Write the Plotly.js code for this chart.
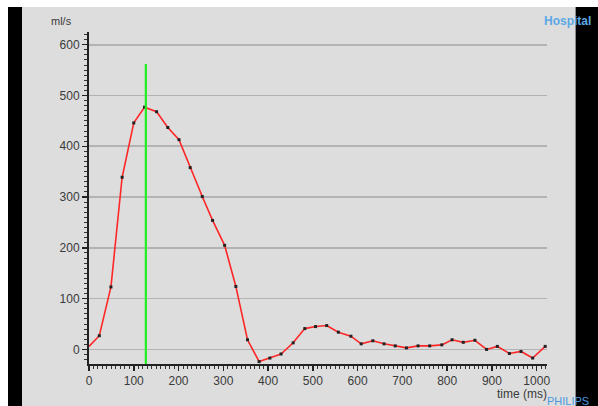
<!DOCTYPE html>
<html>
<head>
<meta charset="utf-8">
<script src="https://cdn.plot.ly/plotly-3.0.1.min.js"></script>
<style>
  html, body { margin: 0; padding: 0; background: #ffffff; }
  #wrap { position: relative; width: 598px; height: 406px; overflow: hidden; }
  #black { position: absolute; left: 8px; top: 7px; width: 590px; height: 399px; background: #000; }
  #gray { position: absolute; left: 22px; top: 7px; width: 553px; height: 399px; background: #dddddd; border-right: 1px solid #8a8a8a; }
  #chart { position: absolute; left: 0; top: 0; width: 598px; height: 406px; }
</style>
</head>
<body>
<div id="wrap">
  <div id="black"></div>
  <div id="gray"></div>
  <div id="chart"></div>
</div>
<script>
// time (ms) of each sample
var timeMs = [0, 23, 49, 74, 100, 124, 151, 176, 201, 226, 253, 276, 303, 328, 354, 380, 404, 429, 456, 482, 506,
              531, 557, 585, 608, 634, 659, 684, 709, 735, 761, 788, 811, 836, 862, 888, 912, 939, 965, 991, 1019];
// flow (ml/s)
var flow = [6, 27, 123, 339, 446, 477, 468, 437, 413, 358, 301, 254, 205, 124, 19, -24, -17, -9, 13, 41, 45,
            47, 34, 26, 11, 17, 11, 7, 3, 7, 7, 9, 19, 14, 18, 0, 6, -8, -4, -17, 6];
// cursor (green marker line)
var cursorX = [127, 127];
var cursorY = [-29, 562];

var xTicks = [0, 100, 200, 300, 400, 500, 600, 700, 800, 900, 1000];
var yTicks = [0, 100, 200, 300, 400, 500, 600];

var traces = [
  {
    x: timeMs, y: flow, type: 'scatter', mode: 'lines',
    line: { color: '#ff2626', width: 1.6 }, hoverinfo: 'skip', showlegend: false
  },
  {
    x: timeMs.slice(1), y: flow.slice(1), type: 'scatter', mode: 'markers',
    marker: { color: '#222222', size: 3, symbol: 'square' }, hoverinfo: 'skip', showlegend: false
  },
  {
    x: cursorX, y: cursorY, type: 'scatter', mode: 'lines',
    line: { color: '#22ee22', width: 2.2 }, hoverinfo: 'skip', showlegend: false
  }
];

var axisFont = { family: 'Liberation Sans, Arial, sans-serif', size: 12, color: '#3a3a3a' };

var layout = {
  width: 598, height: 406,
  margin: { l: 89, r: 51.3, t: 32, b: 41.7 },
  paper_bgcolor: 'rgba(0,0,0,0)',
  plot_bgcolor: 'rgba(0,0,0,0)',
  showlegend: false,
  xaxis: {
    range: [0, 1023], tickvals: xTicks, ticktext: xTicks.map(String),
    showgrid: false, zeroline: false,
    showline: true, linecolor: '#222222', linewidth: 2,
    ticks: 'outside', ticklen: 5, tickwidth: 1.5, tickcolor: '#222222',
    minor: { dtick: 10, tick0: 0, ticks: 'outside', ticklen: 3, tickwidth: 1, tickcolor: '#333333', showgrid: false },
    tickfont: axisFont, fixedrange: true
  },
  yaxis: {
    range: [-28.7, 625], tickvals: yTicks, ticktext: yTicks.map(String),
    showgrid: true, gridcolor: '#b3b3b3', gridwidth: 1.6, zeroline: false,
    showline: true, linecolor: '#222222', linewidth: 2,
    ticks: 'outside', ticklen: 5, tickwidth: 1.5, tickcolor: '#222222',
    minor: { dtick: 10, tick0: 0, ticks: 'outside', ticklen: 3, tickwidth: 1, tickcolor: '#333333', showgrid: false },
    tickfont: axisFont, fixedrange: true
  },
  annotations: [
    { text: 'ml/s', xref: 'paper', yref: 'paper', x: -0.0874, y: 1.033, xanchor: 'left', yanchor: 'middle',
      showarrow: false, font: { family: 'Liberation Sans, Arial, sans-serif', size: 11, color: '#3a3a3a' } },
    { text: 'time (ms)', xref: 'paper', yref: 'paper', x: 1.005, y: -0.090, xanchor: 'right', yanchor: 'middle',
      showarrow: false, font: axisFont },
    { text: '<b>Hospital</b>', xref: 'paper', yref: 'paper', x: 1.101, y: 1.033, xanchor: 'right', yanchor: 'middle',
      showarrow: false, font: { family: 'Liberation Sans, Arial, sans-serif', size: 12, color: '#5aa8e6' } },
    { text: 'PHILIPS', xref: 'paper', yref: 'paper', x: 1.0968, y: -0.112, xanchor: 'right', yanchor: 'middle',
      showarrow: false, font: { family: 'Liberation Sans, Arial, sans-serif', size: 11, color: '#4a9be0' } }
  ]
};

Plotly.newPlot('chart', traces, layout, { displayModeBar: false, staticPlot: true });
</script>
</body>
</html>
